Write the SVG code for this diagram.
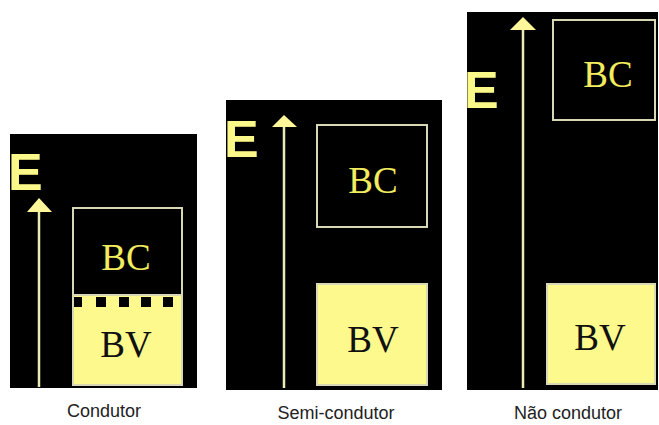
<svg xmlns="http://www.w3.org/2000/svg" width="659" height="425" viewBox="0 0 659 425">
<style>
.panel{fill:#000}
.box{fill:#000;stroke:#d9d8b4;stroke-width:2}
.bv{fill:#fdf98c;stroke:#d9d8b4;stroke-width:2}
.axis{stroke:#ecebb4;stroke-width:2.5;fill:none}
.head{fill:#fff79a}
.e{font-family:"Liberation Sans",Arial,sans-serif;font-size:52px;font-weight:bold;fill:#fbf88a}
.bc{font-family:"Liberation Serif","Times New Roman",serif;font-size:37px;fill:#f2ec5e;text-anchor:middle}
.bvt{font-family:"Liberation Serif","Times New Roman",serif;font-size:37px;fill:#111;text-anchor:middle}
.lbl{font-family:"Liberation Sans",Arial,sans-serif;font-size:18px;fill:#222;text-anchor:middle}
.sq{fill:#000}
</style>
<rect width="659" height="425" fill="#fff"/>
<g id="condutor">
<rect class="panel" x="10" y="134" width="187" height="254"/>
<text class="e" x="8" y="190">E</text>
<rect class="box" x="73" y="208" width="109" height="87"/>
<rect class="bv" x="73" y="295" width="109" height="90"/>
<rect class="sq" x="74" y="297" width="8" height="10"/>
<rect class="sq" x="96" y="297" width="10" height="10"/>
<rect class="sq" x="119" y="297" width="10" height="10"/>
<rect class="sq" x="141" y="297" width="10" height="10"/>
<rect class="sq" x="163" y="297" width="10" height="10"/>
<text class="bc" x="126" y="270">BC</text>
<text class="bvt" x="126" y="357">BV</text>
<text class="lbl" x="104" y="417">Condutor</text>
</g>
<g id="semicondutor">
<rect class="panel" x="226" y="100" width="216" height="290"/>
<text class="e" x="224" y="157">E</text>
<rect class="box" x="317" y="125" width="110" height="102"/>
<rect class="bv" x="317" y="284" width="110" height="101"/>
<text class="bc" x="373" y="193">BC</text>
<text class="bvt" x="373" y="352">BV</text>
<text class="lbl" x="336" y="419">Semi-condutor</text>
</g>
<g id="naocondutor">
<rect class="panel" x="467" y="12" width="191" height="378"/>
<text class="e" x="464" y="108">E</text>
<rect class="box" x="553" y="20" width="102" height="100"/>
<rect class="bv" x="547" y="284" width="108" height="100"/>
<text class="bc" x="608" y="87">BC</text>
<text class="bvt" x="600" y="350">BV</text>
<text class="lbl" x="568" y="419">Não condutor</text>
</g>
<g id="connectors">
<line class="axis" x1="39" y1="210" x2="39" y2="387"/>
<polygon class="head" points="39,198 27,212 52,212"/>
<line class="axis" x1="284" y1="125" x2="284" y2="388"/>
<polygon class="head" points="284,115 272,127 297,127"/>
<line class="axis" x1="523" y1="28" x2="523" y2="388"/>
<polygon class="head" points="523,17 510,30 536,30"/>
</g>
</svg>
